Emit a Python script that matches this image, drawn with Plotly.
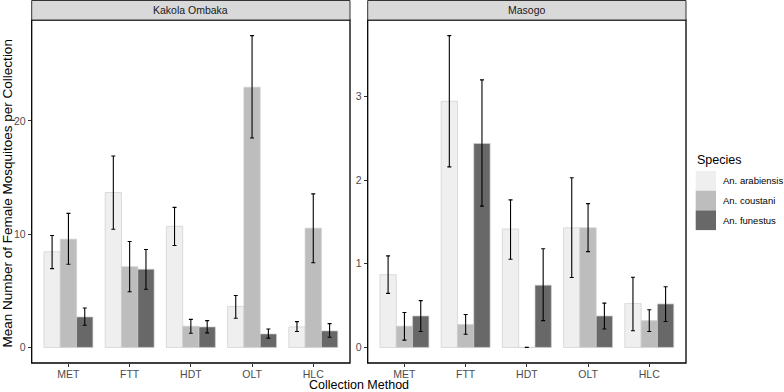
import plotly.graph_objects as go

methods = ["MET", "FTT", "HDT", "OLT", "HLC"]
species = ["An. arabiensis", "An. coustani", "An. funestus"]
sites = ["Kakola Ombaka", "Masogo"]
colors = ["#EFEFEF", "#BDBDBD", "#686868"]

# Kakola Ombaka
ko_arabiensis = [8.45, 13.68, 10.70, 3.62, 1.81]
ko_arabiensis_lo = [6.96, 10.44, 9.00, 2.57, 1.40]
ko_arabiensis_hi = [9.88, 16.90, 12.37, 4.59, 2.28]
ko_coustani = [9.56, 7.13, 1.87, 22.98, 10.53]
ko_coustani_lo = [7.34, 4.91, 1.25, 18.50, 7.48]
ko_coustani_hi = [11.84, 9.35, 2.48, 27.54, 13.56]
ko_funestus = [2.69, 6.90, 1.81, 1.19, 1.46]
ko_funestus_lo = [1.96, 5.14, 1.28, 0.82, 0.90]
ko_funestus_hi = [3.48, 8.65, 2.37, 1.63, 2.10]

# Masogo
ms_arabiensis = [0.87, 2.944, 1.417, 1.43, 0.524]
ms_arabiensis_lo = [0.646, 2.16, 1.055, 0.837, 0.20]
ms_arabiensis_hi = [1.095, 3.73, 1.765, 2.03, 0.84]
ms_coustani = [0.254, 0.274, 0.0, 1.43, 0.32]
ms_coustani_lo = [0.087, 0.158, 0.0, 1.146, 0.19]
ms_coustani_hi = [0.417, 0.393, 0.0, 1.72, 0.45]
ms_funestus = [0.376, 2.44, 0.745, 0.376, 0.52]
ms_funestus_lo = [0.19, 1.69, 0.32, 0.22, 0.31]
ms_funestus_hi = [0.56, 3.20, 1.18, 0.53, 0.726]

panels = [
    (ko_arabiensis, ko_arabiensis_lo, ko_arabiensis_hi,
     ko_coustani, ko_coustani_lo, ko_coustani_hi,
     ko_funestus, ko_funestus_lo, ko_funestus_hi),
    (ms_arabiensis, ms_arabiensis_lo, ms_arabiensis_hi,
     ms_coustani, ms_coustani_lo, ms_coustani_hi,
     ms_funestus, ms_funestus_lo, ms_funestus_hi),
]
yticks = [[0, 10, 20], [0, 1, 2, 3]]

W, H = 784, 392
FONT = "Liberation Sans, Arial, sans-serif"

fig = go.Figure()

x_domains = [[31.7 / W, 350 / W], [367.7 / W, 686 / W]]
y_dom = [(H - 363) / H, (H - 20) / H]

for p, data in enumerate(panels):
    xa = "x" if p == 0 else "x2"
    ya = "y" if p == 0 else "y2"
    allhi = []
    for s in range(3):
        mean, lo, hi = data[3 * s], data[3 * s + 1], data[3 * s + 2]
        allhi += hi
        fig.add_trace(go.Bar(
            x=methods, y=mean, name=species[s], xaxis=xa, yaxis=ya,
            marker=dict(color=colors[s], line=dict(color="#CFCFCF", width=0.7)),
            error_y=dict(type="data", symmetric=False,
                         array=[h - m for h, m in zip(hi, mean)],
                         arrayminus=[m - l for m, l in zip(mean, lo)],
                         color="black", thickness=1.1, width=2),
            showlegend=False, offsetgroup=str(s), hoverinfo="skip",
        ))
    ymax = max(allhi)
    rng = [-0.05 * ymax, ymax * 1.05]
    axn = "" if p == 0 else "2"
    fig.layout["xaxis" + axn] = dict(
        domain=x_domains[p], range=[-0.6, 4.6], anchor=ya, automargin=False,
        showgrid=False, zeroline=False, showline=False,
        ticks="outside", ticklen=3, tickcolor="#333333",
        ticklabelstandoff=-2,
        tickfont=dict(family=FONT, size=10.5, color="#4D4D4D"),
        fixedrange=True)
    fig.layout["yaxis" + axn] = dict(
        domain=y_dom, range=rng, anchor=xa, automargin=False,
        showgrid=False, zeroline=False, showline=False,
        tickvals=yticks[p], ticks="outside", ticklen=3, tickcolor="#333333",
        tickfont=dict(family=FONT, size=10.5, color="#4D4D4D"),
        fixedrange=True)

shapes = []
annotations = []
for p in range(2):
    x0, x1 = x_domains[p]
    # panel border
    shapes.append(dict(type="rect", xref="paper", yref="paper",
                       x0=x0, x1=x1, y0=y_dom[0], y1=y_dom[1],
                       line=dict(color="black", width=1.3)))
    # strip
    shapes.append(dict(type="rect", xref="paper", yref="paper",
                       x0=x0, x1=x1, y0=y_dom[1], y1=(H - 0.5) / H,
                       fillcolor="#D9D9D9", line=dict(color="#333333", width=1)))
    annotations.append(dict(text=sites[p], xref="paper", yref="paper",
                            x=(x0 + x1) / 2, y=(H - 10) / H, showarrow=False,
                            xanchor="center", yanchor="middle",
                            font=dict(family=FONT, size=10.5, color="#1A1A1A")))

# legend (manual)
annotations.append(dict(text="Species", xref="paper", yref="paper",
                        x=695 / W, y=(H - 160) / H, showarrow=False,
                        xanchor="left", yanchor="middle",
                        font=dict(family=FONT, size=12.5, color="black")))
for s in range(3):
    top = 171 + s * 19.7
    shapes.append(dict(type="rect", xref="paper", yref="paper",
                       x0=695.7 / W, x1=716 / W,
                       y0=(H - top - 19.7) / H, y1=(H - top) / H,
                       fillcolor=colors[s], line=dict(width=0)))
    annotations.append(dict(text=species[s], xref="paper", yref="paper",
                            x=720.5 / W, y=(H - top - 9.85) / H, showarrow=False,
                            xanchor="left", yanchor="middle",
                            font=dict(family=FONT, size=9.5, color="black")))

# axis titles
annotations.append(dict(text="Collection Method", xref="paper", yref="paper",
                        x=(31.7 + 686) / 2 / W, y=(H - 384.5) / H, showarrow=False,
                        xanchor="center", yanchor="middle",
                        font=dict(family=FONT, size=12.5, color="black")))
annotations.append(dict(text="Mean Number of Female Mosquitoes per Collection",
                        xref="paper", yref="paper", x=7 / W, y=(H - 193.5) / H,
                        showarrow=False, textangle=-90,
                        xanchor="center", yanchor="middle",
                        font=dict(family=FONT, size=13.5, color="black")))

fig.update_layout(
    width=W, height=H, margin=dict(l=0, r=0, t=0, b=0, autoexpand=False),
    paper_bgcolor="white", plot_bgcolor="white",
    barmode="group", bargap=0.2, bargroupgap=0,
    shapes=shapes, annotations=annotations, showlegend=False,
)

fig.write_html("out.html", config={"displayModeBar": False},
               post_script="document.body.style.margin='0';document.body.style.overflow='hidden';")
